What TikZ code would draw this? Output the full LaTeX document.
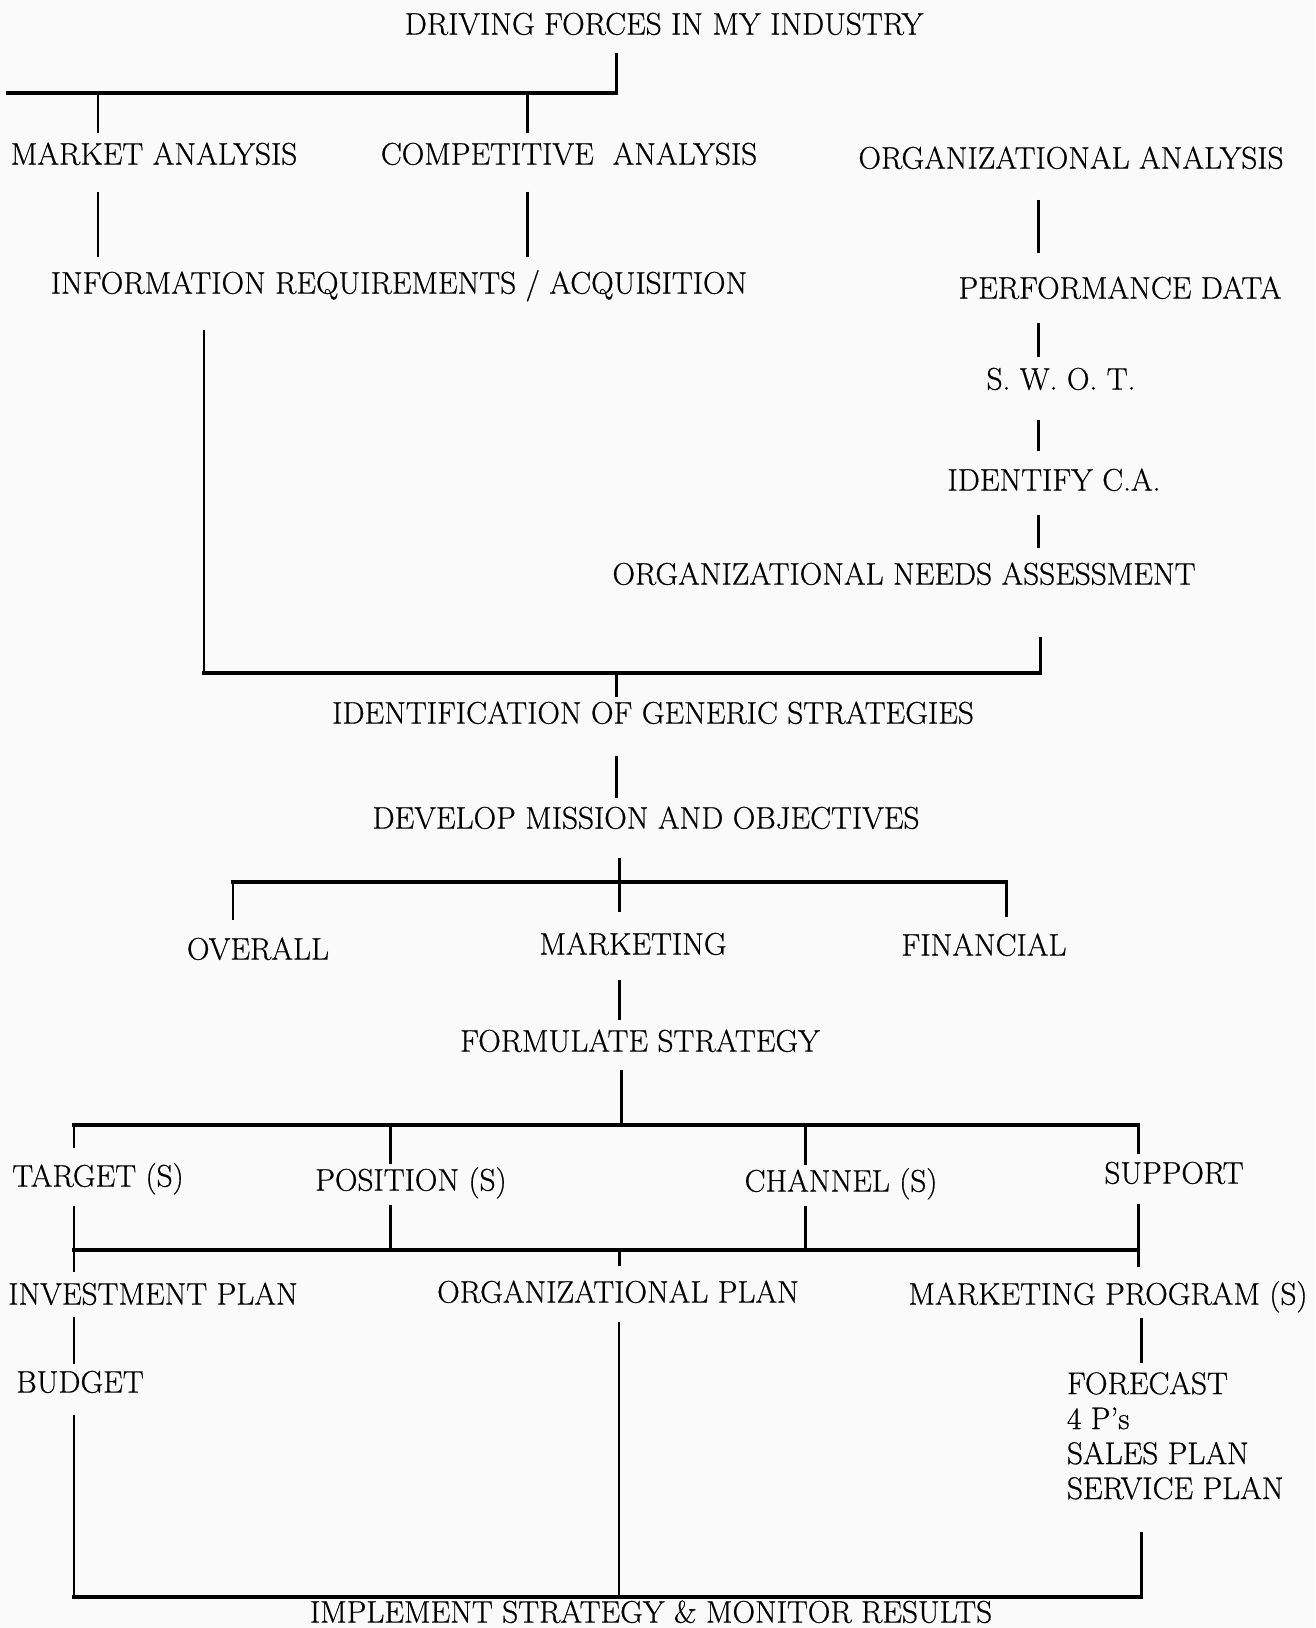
\documentclass[tikz,border=0pt]{standalone}
\usepackage{fontspec}
\usepackage{tikz}

\newfontfamily\chartfont{Latin Modern Roman}[Ligatures=TeX, FakeBold=0.6]

\newlength\pxu
\setlength\pxu{0.02cm}

\tikzset{
  lbl/.style={inner sep=0pt, outer sep=0pt, text height=12.1pt, text depth=0pt,
    font=\chartfont\fontsize{17.8}{19.9}\selectfont},
  listtxt/.style={inner sep=0pt, outer sep=0pt, align=left,
    font=\chartfont\fontsize{17.8}{19.9}\selectfont},
  stem/.style={draw, line width=1.7pt},
  thinstem/.style={draw, line width=1.1pt},
  bar/.style={draw, line width=2.5pt, line cap=rect},
  gaps/.style 2 args={shorten <=#1\pxu, shorten >=#2\pxu}
}

\begin{document}
\begin{tikzpicture}[x=0.02cm, y=-0.02cm]
  \fill[gray!4] (0,0) rectangle (1315,1628);

  % analysis
  \node[lbl] (drive) at (664,24) {DRIVING FORCES IN MY INDUSTRY};
  \node[lbl] (market) at (154,154) {MARKET ANALYSIS};
  \node[lbl] (comp) at (569,154) {COMPETITIVE\ \ ANALYSIS};
  \node[lbl] (orgA) at (1071,158) {ORGANIZATIONAL ANALYSIS};
  \node[lbl] (info) at (399,283) {INFORMATION REQUIREMENTS / ACQUISITION};
  \node[lbl] (perf) at (1120,288) {PERFORMANCE DATA};
  \node[lbl] (swot) at (1061,379) {S. W. O. T.};
  \node[lbl] (ident) at (1054,480) {IDENTIFY C.A.};
  \node[lbl] (ona) at (904,574) {ORGANIZATIONAL NEEDS ASSESSMENT};

  % strategy
  \node[lbl] (generic) at (653,713) {IDENTIFICATION OF GENERIC STRATEGIES};
  \node[lbl] (develop) at (646,818) {DEVELOP MISSION AND OBJECTIVES};
  \node[lbl] (overall) at (258,949) {OVERALL};
  \node[lbl] (marketing) at (633,944) {MARKETING};
  \node[lbl] (financial) at (984,945) {FINANCIAL};
  \node[lbl] (formulate) at (640,1041) {FORMULATE STRATEGY};
  \node[lbl] (target) at (98,1176) {TARGET (S)};
  \node[lbl] (position) at (411,1180) {POSITION (S)};
  \node[lbl] (channel) at (841,1181) {CHANNEL (S)};
  \node[lbl] (support) at (1174,1173) {SUPPORT};

  % plans
  \node[lbl] (invest) at (153,1294) {INVESTMENT PLAN};
  \node[lbl] (orgplan) at (618,1292) {ORGANIZATIONAL PLAN};
  \node[lbl] (mktprog) at (1108,1294) {MARKETING PROGRAM (S)};
  \node[lbl] (budget) at (80,1382) {BUDGET};
  \node[listtxt, anchor=north west] (list) at (1067,1372)
    {FORECAST\\4 P's\\SALES PLAN\\SERVICE PLAN};
  \node[lbl] (implement) at (651,1612) {IMPLEMENT STRATEGY \& MONITOR RESULTS};

  % bars
  \coordinate (b1) at (616,93);   \coordinate (b1w) at (8,93);
  \coordinate (t1) at (98,93);    \coordinate (t2) at (527,93);
  \coordinate (rx) at (1038,0);
  \coordinate (b2) at (616,673);  \coordinate (b2w) at (204,673);  \coordinate (b2e) at (1040,673);
  \coordinate (b3) at (619,882);  \coordinate (b3w) at (233,882);  \coordinate (b3e) at (1006,882);
  \coordinate (b4) at (621,1125); \coordinate (b4w) at (74,1125);  \coordinate (b4e) at (1138,1125);
  \coordinate (p4) at (390,1125); \coordinate (c4) at (805,1125);
  \coordinate (b5) at (619,1250); \coordinate (b5w) at (74,1250);  \coordinate (b5e) at (1138,1250);
  \coordinate (b6w) at (74,1597); \coordinate (b6e) at (1141,1597);

  \path[stem, gaps={18}{0}] (drive.south -| b1) -- (b1);
  \path[bar] (b1w) -- (b1);
  \path[stem, gaps={0}{10}] (t1) -- (t1 |- market.north);
  \path[stem, gaps={0}{10}] (t2) -- (t2 |- comp.north);
  \path[stem, gaps={27}{15}] (t1 |- market.south) -- (t1 |- info.north);
  \path[stem, gaps={27}{15}] (t2 |- comp.south) -- (t2 |- info.north);
  \path[stem, gaps={31}{24}] (rx |- orgA.south) -- (rx |- perf.north);
  \path[stem, gaps={24}{11}] (rx |- perf.south) -- (rx |- swot.north);
  \path[stem, gaps={30}{18}] (rx |- swot.south) -- (rx |- ident.north);
  \path[stem, gaps={24}{15}] (rx |- ident.south) -- (rx |- ona.north);

  \path[stem, gaps={36}{0}] (b2w |- info.south) -- (b2w);
  \path[stem, gaps={52}{0}] (b2e |- ona.south) -- (b2e);
  \path[bar] (b2w) -- (b2e);
  \path[stem, gaps={0}{5}] (b2) -- (b2 |- generic.north);
  \path[stem, gaps={32}{9}] (b2 |- generic.south) -- (b2 |- develop.north);

  \path[stem, gaps={29}{0}] (b3 |- develop.south) -- (b3);
  \path[bar] (b3w) -- (b3e);
  \path[stem, gaps={0}{18}] (b3w) -- (b3w |- overall.north);
  \path[stem, gaps={0}{21}] (b3) -- (b3 |- marketing.north);
  \path[stem, gaps={0}{17}] (b3e) -- (b3e |- financial.north);
  \path[stem, gaps={25}{10}] (b3 |- marketing.south) -- (b3 |- formulate.north);

  \path[stem, gaps={18}{0}] (b4 |- formulate.south) -- (b4);
  \path[bar] (b4w) -- (b4e);
  \path[stem, gaps={0}{17}] (b4w) -- (b4w |- target.north);
  \path[stem, gaps={0}{5}] (p4) -- (p4 |- position.north);
  \path[stem, gaps={0}{5}] (c4) -- (c4 |- channel.north);
  \path[stem, gaps={0}{8}] (b4e) -- (b4e |- support.north);

  \path[stem, gaps={19}{0}] (b5w |- target.south) -- (b5w);
  \path[stem, gaps={14}{0}] (p4 |- position.south) -- (p4 |- b5w);
  \path[stem, gaps={14}{0}] (c4 |- channel.south) -- (c4 |- b5w);
  \path[stem, gaps={20}{0}] (b5e |- support.south) -- (b5e);
  \path[bar] (b5w) -- (b5e);
  \path[stem, gaps={0}{11}] (b5w) -- (b5w |- invest.north);
  \path[stem, gaps={0}{15}] (b5) -- (b5 |- orgplan.north);
  \path[stem, gaps={0}{16}] (b5e) -- (b5e |- mktprog.north);

  \path[stem, gaps={12}{7}] (b5w |- invest.south) -- (b5w |- budget.north);
  \path[stem, gaps={22}{0}] (b6w |- budget.south) -- (b6w);
  \path[thinstem, gaps={19}{0}] (b5 |- orgplan.south) -- (b5 |- b6w);
  \path[stem, gaps={13}{9}] (b6e |- mktprog.south) -- (b6e |- list.north);
  \path[stem, gaps={32}{0}] (b6e |- list.south) -- (b6e);
  \path[bar] (b6w) -- (b6e);

\end{tikzpicture}
\end{document}
